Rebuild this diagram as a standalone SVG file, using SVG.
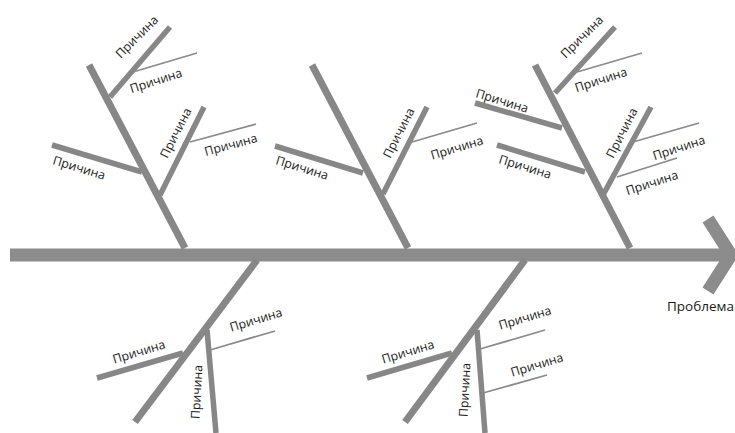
<svg xmlns="http://www.w3.org/2000/svg" width="735" height="433" viewBox="0 0 735 433">
  <style>
    .bone { stroke: #878787; stroke-width: 7; stroke-linecap: butt; fill: none; }
    .rib { stroke: #878787; stroke-width: 5.5; fill: none; }
    .fine { stroke: #8a8a8a; stroke-width: 1.8; fill: none; }
    .spine { stroke: #8c8c8c; stroke-width: 13; fill: none; }
    .lbl { font-family: "Open Sans", "Liberation Sans", sans-serif; font-size: 12.3px; fill: #1a1a1a; text-anchor: middle; }
  </style>
  <rect width="735" height="433" fill="#ffffff"/>

  <!-- main spine with open arrowhead -->
  <g id="spine">
    <line class="spine" x1="10" y1="255" x2="728" y2="255"/>
    <polyline class="spine" points="708,219 731,255 708,291" stroke-linejoin="miter"/>
    <text x="667" y="311" style="font-family:'Open Sans','Liberation Sans',sans-serif;font-size:13.5px;fill:#1a1a1a">Проблема</text>
  </g>

  <g id="connectors">
    <!-- upper-left bone -->
    <line class="bone" x1="89" y1="65" x2="185" y2="248"/>
    <line class="rib" x1="110" y1="97" x2="170" y2="27"/>
    <line class="fine" x1="133" y1="72" x2="197" y2="53"/>
    <line class="rib" x1="160" y1="195" x2="204" y2="107"/>
    <line class="fine" x1="190" y1="142" x2="256" y2="124"/>
    <line class="rib" x1="52" y1="145" x2="142" y2="172"/>

    <!-- upper-middle bone -->
    <line class="bone" x1="312" y1="65" x2="408" y2="248"/>
    <line class="rib" x1="275" y1="146" x2="363" y2="173"/>
    <line class="rib" x1="383" y1="194" x2="427" y2="107"/>
    <line class="fine" x1="412" y1="142" x2="477" y2="123"/>

    <!-- upper-right bone -->
    <line class="bone" x1="535" y1="65" x2="630" y2="248"/>
    <line class="rib" x1="555" y1="93" x2="615" y2="27"/>
    <line class="fine" x1="577" y1="72" x2="642" y2="53"/>
    <line class="rib" x1="475" y1="103" x2="562" y2="128"/>
    <line class="rib" x1="497" y1="145" x2="585" y2="172"/>
    <line class="rib" x1="603" y1="195" x2="651" y2="107"/>
    <line class="fine" x1="633" y1="142" x2="699" y2="123"/>
    <line class="fine" x1="617" y1="177" x2="677" y2="158"/>

    <!-- lower-left bone -->
    <line class="bone" x1="257" y1="260" x2="135" y2="422"/>
    <line class="rib" x1="97" y1="378" x2="183" y2="353"/>
    <line class="rib" x1="207" y1="330" x2="216" y2="433"/>
    <line class="fine" x1="210" y1="350" x2="275" y2="331"/>

    <!-- lower-right bone -->
    <line class="bone" x1="525" y1="260" x2="405" y2="422"/>
    <line class="rib" x1="367" y1="378" x2="452" y2="353"/>
    <line class="rib" x1="477" y1="330" x2="485" y2="433"/>
    <line class="fine" x1="480" y1="349" x2="545" y2="330"/>
    <line class="fine" x1="483" y1="393" x2="547" y2="375"/>
  </g>

  <!-- cause labels -->
  <g id="cause-upper-left">
    <text class="lbl" transform="translate(137,37) rotate(-45)" y="4">Причина</text>
    <text class="lbl" transform="translate(156,81) rotate(-18)" y="4">Причина</text>
    <text class="lbl" transform="translate(176,133) rotate(-63)" y="4">Причина</text>
    <text class="lbl" transform="translate(231,145) rotate(-15)" y="4">Причина</text>
    <text class="lbl" transform="translate(79,168) rotate(17)" y="4">Причина</text>
  </g>
  <g id="cause-upper-middle">
    <text class="lbl" transform="translate(302,168) rotate(17)" y="4">Причина</text>
    <text class="lbl" transform="translate(399,133) rotate(-63)" y="4">Причина</text>
    <text class="lbl" transform="translate(457,148) rotate(-17)" y="4">Причина</text>
  </g>
  <g id="cause-upper-right">
    <text class="lbl" transform="translate(582,37) rotate(-45)" y="4">Причина</text>
    <text class="lbl" transform="translate(601,80) rotate(-18)" y="4">Причина</text>
    <text class="lbl" transform="translate(502,101) rotate(17)" y="4">Причина</text>
    <text class="lbl" transform="translate(525,167) rotate(17)" y="4">Причина</text>
    <text class="lbl" transform="translate(622,133) rotate(-63)" y="4">Причина</text>
    <text class="lbl" transform="translate(679,148) rotate(-18)" y="4">Причина</text>
    <text class="lbl" transform="translate(652,183) rotate(-18)" y="4">Причина</text>
  </g>
  <g id="cause-lower-left">
    <text class="lbl" transform="translate(139,352) rotate(-17)" y="4">Причина</text>
    <text class="lbl" transform="translate(256,320) rotate(-17)" y="4">Причина</text>
    <text class="lbl" transform="translate(197,392) rotate(-87)" y="4">Причина</text>
  </g>
  <g id="cause-lower-right">
    <text class="lbl" transform="translate(408,352) rotate(-17)" y="4">Причина</text>
    <text class="lbl" transform="translate(525,318) rotate(-17)" y="4">Причина</text>
    <text class="lbl" transform="translate(537,365) rotate(-17)" y="4">Причина</text>
    <text class="lbl" transform="translate(465,390) rotate(-87)" y="4">Причина</text>
  </g>
</svg>
